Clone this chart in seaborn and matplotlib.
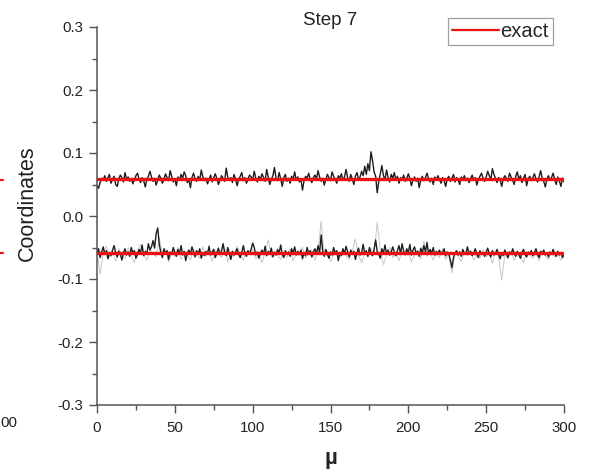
import numpy as np
import pandas as pd
import matplotlib
matplotlib.use("Agg")
import matplotlib.pyplot as plt
from matplotlib.lines import Line2D
from matplotlib.ticker import MultipleLocator
import seaborn as sns

# ---------------- data ----------------
mu = list(range(0, 301))
mu_faint = list(range(0, 301, 2))

upper = [
    0.049, 0.044, 0.053, 0.060, 0.057, 0.064, 0.055, 0.061, 0.066, 0.052,
    0.058, 0.063, 0.050, 0.047, 0.059, 0.065, 0.061, 0.054, 0.069, 0.058,
    0.062, 0.055, 0.060, 0.051, 0.057, 0.064, 0.068, 0.059, 0.053, 0.061,
    0.056, 0.046, 0.058, 0.063, 0.071, 0.062, 0.055, 0.060, 0.049, 0.057,
    0.065, 0.060, 0.052, 0.058, 0.067, 0.061, 0.056, 0.072, 0.063, 0.054,
    0.059, 0.048, 0.062, 0.057, 0.066, 0.060, 0.070, 0.064, 0.053, 0.058,
    0.045, 0.061, 0.068, 0.059, 0.055, 0.063, 0.057, 0.073, 0.062, 0.056,
    0.060, 0.051, 0.058, 0.065, 0.054, 0.061, 0.067, 0.059, 0.050, 0.057,
    0.064, 0.060, 0.055, 0.076, 0.062, 0.057, 0.061, 0.053, 0.066, 0.059,
    0.048, 0.058, 0.063, 0.069, 0.056, 0.061, 0.052, 0.059, 0.065, 0.062,
    0.057, 0.071, 0.060, 0.054, 0.063, 0.058, 0.067, 0.061, 0.055, 0.074,
    0.062, 0.050, 0.058, 0.064, 0.077, 0.060, 0.056, 0.069, 0.059, 0.047,
    0.061, 0.066, 0.055, 0.060, 0.052, 0.063, 0.058, 0.070, 0.057, 0.062,
    0.054, 0.059, 0.041, 0.056, 0.063, 0.060, 0.068, 0.058, 0.053, 0.061,
    0.065, 0.059, 0.072, 0.062, 0.055, 0.060, 0.049, 0.058, 0.066, 0.061,
    0.056, 0.070, 0.063, 0.058, 0.052, 0.064, 0.060, 0.067, 0.057, 0.062,
    0.074, 0.061, 0.055, 0.066, 0.059, 0.050, 0.063, 0.069, 0.058, 0.062,
    0.071, 0.064, 0.079, 0.066, 0.083, 0.072, 0.102, 0.088, 0.070, 0.063,
    0.037, 0.055, 0.067, 0.080, 0.064, 0.058, 0.073, 0.061, 0.054, 0.066,
    0.060, 0.069, 0.057, 0.063, 0.052, 0.061, 0.058, 0.065, 0.055, 0.060,
    0.067, 0.059, 0.048, 0.057, 0.062, 0.055, 0.060, 0.045, 0.058, 0.063,
    0.056, 0.061, 0.068, 0.059, 0.054, 0.060, 0.050, 0.062, 0.057, 0.064,
    0.058, 0.052, 0.061, 0.056, 0.047, 0.059, 0.063, 0.055, 0.060, 0.066,
    0.054, 0.061, 0.057, 0.050, 0.062, 0.058, 0.064, 0.056, 0.060, 0.053,
    0.059, 0.065, 0.057, 0.061, 0.049, 0.058, 0.063, 0.068, 0.060, 0.055,
    0.062, 0.071, 0.064, 0.058, 0.075, 0.066, 0.060, 0.053, 0.061, 0.057,
    0.047, 0.059, 0.064, 0.060, 0.055, 0.068, 0.062, 0.057, 0.050, 0.063,
    0.070, 0.058, 0.064, 0.053, 0.060, 0.066, 0.048, 0.059, 0.063, 0.056,
    0.061, 0.067, 0.059, 0.054, 0.062, 0.072, 0.060, 0.055, 0.046, 0.058,
    0.064, 0.057, 0.061, 0.068, 0.058, 0.050, 0.062, 0.056, 0.047, 0.060,
    0.054,
]

lower = [
    -0.060, -0.052, -0.066, -0.057, -0.049, -0.061, -0.055, -0.068, -0.058, -0.063,
    -0.054, -0.047, -0.059, -0.065, -0.056, -0.061, -0.070, -0.058, -0.052, -0.062,
    -0.057, -0.064, -0.050, -0.059, -0.055, -0.067, -0.061, -0.053, -0.058, -0.046,
    -0.063, -0.056, -0.060, -0.044, -0.054, -0.049, -0.039, -0.051, -0.028, -0.019,
    -0.045, -0.058, -0.066, -0.052, -0.060, -0.055, -0.069, -0.057, -0.061, -0.050,
    -0.058, -0.064, -0.053, -0.060, -0.047, -0.062, -0.056, -0.071, -0.059, -0.054,
    -0.061, -0.049, -0.057, -0.065, -0.055, -0.060, -0.052, -0.067, -0.058, -0.063,
    -0.056, -0.060, -0.048, -0.062, -0.057, -0.053, -0.066, -0.059, -0.051, -0.061,
    -0.055, -0.044, -0.058, -0.063, -0.050, -0.060, -0.069, -0.056, -0.062, -0.057,
    -0.052, -0.061, -0.066, -0.058, -0.047, -0.059, -0.064, -0.055, -0.060, -0.053,
    -0.043, -0.050, -0.062, -0.057, -0.067, -0.059, -0.054, -0.061, -0.048, -0.063,
    -0.056, -0.060, -0.051, -0.065, -0.058, -0.062, -0.053, -0.059, -0.046, -0.061,
    -0.066, -0.055, -0.060, -0.057, -0.064, -0.052, -0.059, -0.049, -0.062, -0.056,
    -0.061, -0.054, -0.068, -0.058, -0.063, -0.050, -0.060, -0.055, -0.065, -0.057,
    -0.052, -0.060, -0.047, -0.058, -0.030, -0.056, -0.064, -0.053, -0.061, -0.067,
    -0.057, -0.062, -0.050, -0.059, -0.055, -0.071, -0.058, -0.063, -0.052, -0.060,
    -0.048, -0.057, -0.065, -0.054, -0.061, -0.056, -0.069, -0.059, -0.051, -0.062,
    -0.058, -0.045, -0.060, -0.055, -0.064, -0.050, -0.059, -0.063, -0.053, -0.038,
    -0.056, -0.061, -0.067, -0.052, -0.059, -0.046, -0.060, -0.054, -0.062, -0.057,
    -0.049, -0.058, -0.063, -0.055, -0.047, -0.060, -0.044, -0.056, -0.061, -0.052,
    -0.058, -0.045, -0.062, -0.054, -0.049, -0.060, -0.056, -0.064, -0.051, -0.059,
    -0.047, -0.057, -0.042, -0.061, -0.053, -0.059, -0.050, -0.062, -0.056, -0.060,
    -0.054, -0.061, -0.058, -0.052, -0.063, -0.057, -0.060, -0.070, -0.082, -0.066,
    -0.059, -0.055, -0.062, -0.057, -0.064, -0.053, -0.060, -0.058, -0.049, -0.061,
    -0.056, -0.063, -0.059, -0.052, -0.060, -0.066, -0.055, -0.061, -0.058, -0.064,
    -0.057, -0.051, -0.060, -0.065, -0.055, -0.062, -0.059, -0.053, -0.061, -0.068,
    -0.058, -0.063, -0.054, -0.060, -0.066, -0.057, -0.061, -0.052, -0.059, -0.064,
    -0.056, -0.062, -0.067, -0.058, -0.053, -0.061, -0.065, -0.057, -0.060, -0.055,
    -0.063, -0.058, -0.052, -0.061, -0.066, -0.056, -0.060, -0.054, -0.062, -0.059,
    -0.065, -0.057, -0.061, -0.053, -0.060, -0.064, -0.056, -0.062, -0.058, -0.066,
    -0.061,
]

lower_faint = [
    -0.055, -0.092, -0.060, -0.048, -0.066, -0.058, -0.072, -0.052, -0.061, -0.068,
    -0.050, -0.063, -0.074, -0.056, -0.045, -0.062, -0.070, -0.054, -0.059, -0.065,
    -0.034, -0.061, -0.052, -0.073, -0.058, -0.064, -0.050, -0.069, -0.057, -0.062,
    -0.070, -0.053, -0.061, -0.067, -0.049, -0.064, -0.058, -0.072, -0.055, -0.060,
    -0.066, -0.051, -0.073, -0.059, -0.064, -0.048, -0.062, -0.070, -0.056, -0.061,
    -0.053, -0.068, -0.060, -0.074, -0.057, -0.038, -0.065, -0.055, -0.062, -0.069,
    -0.058, -0.066, -0.052, -0.071, -0.060, -0.063, -0.049, -0.067, -0.059, -0.054,
    -0.070, -0.057, -0.008, -0.064, -0.055, -0.072, -0.061, -0.058, -0.067, -0.052,
    -0.063, -0.069, -0.056, -0.036, -0.062, -0.074, -0.058, -0.065, -0.051, -0.060,
    -0.010, -0.055, -0.077, -0.062, -0.050, -0.066, -0.059, -0.071, -0.056, -0.063,
    -0.057, -0.073, -0.061, -0.054, -0.068, -0.040, -0.064, -0.058, -0.070, -0.060,
    -0.066, -0.052, -0.069, -0.061, -0.090, -0.057, -0.064, -0.072, -0.058, -0.063,
    -0.055, -0.070, -0.062, -0.067, -0.053, -0.065, -0.060, -0.075, -0.058, -0.064,
    -0.102, -0.061, -0.068, -0.056, -0.070, -0.059, -0.063, -0.074, -0.057, -0.062,
    -0.067, -0.060, -0.071, -0.055, -0.064, -0.069, -0.058, -0.066, -0.061, -0.070,
    -0.063,
]

exact_mu = [0, 300]
exact_upper = [0.058, 0.058]
exact_lower = [-0.058, -0.058]

x_ticks = [0, 50, 100, 150, 200, 250, 300]
y_ticks = [-0.3, -0.2, -0.1, 0.0, 0.1, 0.2, 0.3]
y_tick_labels = ["-0.3", "-0.2", "-0.1", "0.0", "0.1", "0.2", "0.3"]

# ---------------- plot ----------------
sns.set_style("white")
plt.rcParams["font.family"] = ["Liberation Sans", "DejaVu Sans"]

fig = plt.figure(figsize=(5.9, 4.72), dpi=100)
ax = fig.add_axes([97 / 590, 1 - 405 / 472, (564 - 97) / 590, (405 - 27) / 472])

sns.lineplot(x=mu_faint, y=lower_faint, ax=ax, color="#c8c8c8", lw=0.7, zorder=1)
sns.lineplot(x=mu, y=upper, ax=ax, color="#1e1e1e", lw=1.0, zorder=2)
sns.lineplot(x=mu, y=lower, ax=ax, color="#1e1e1e", lw=1.0, zorder=2)
sns.lineplot(x=exact_mu, y=exact_upper, ax=ax, color="#ee1111", lw=2.4, zorder=3,
             label="exact")
sns.lineplot(x=exact_mu, y=exact_lower, ax=ax, color="#ee1111", lw=2.4, zorder=3)

ax.set_xlim(0, 300)
ax.set_ylim(-0.3, 0.3)
ax.set_xticks(x_ticks)
ax.set_yticks(y_ticks)
ax.set_yticklabels(y_tick_labels)
ax.xaxis.set_minor_locator(MultipleLocator(25))
ax.yaxis.set_minor_locator(MultipleLocator(0.05))
ax.tick_params(which="major", direction="out", length=6, width=1.0,
               color="#555555", labelsize=10.8, labelcolor="#222222", pad=4)
ax.tick_params(which="minor", direction="out", length=3.5, width=1.0, color="#555555")
ax.tick_params(axis="x", which="major", pad=5.5)
ax.tick_params(axis="x", which="both", bottom=True)
ax.tick_params(axis="y", which="both", left=True)
for s in ["top", "right"]:
    ax.spines[s].set_visible(False)
for s in ["left", "bottom"]:
    ax.spines[s].set_color("#555555")
    ax.spines[s].set_linewidth(1.1)
ax.set_xlabel("")
ax.set_ylabel("")

fig.text(27 / 590, 1 - 203 / 472, "Coordinates", rotation=90, ha="center",
         va="center", fontsize=15.5, color="#222222")
fig.text(331 / 590, 1 - 464 / 472, "µ", ha="center", va="baseline",
         fontsize=16, fontweight="bold", color="#222222")
fig.text(330 / 590, 1 - 25 / 472, "Step 7", ha="center", va="baseline",
         fontsize=13.5, color="#222222")

leg = ax.legend(loc="upper right", bbox_to_anchor=(553 / 590, 1 - 18 / 472),
                bbox_transform=fig.transFigure, fontsize=14.5, frameon=True,
                fancybox=False, handlelength=2.3, borderpad=0.2,
                handletextpad=0.1, borderaxespad=0)
leg.get_frame().set_edgecolor("#888888")
leg.get_frame().set_linewidth(0.9)
for h in leg.get_lines():
    h.set_linewidth(1.6)

# fragments of the neighbouring panel at the left edge
fig.text(0, 1 - 423 / 472, "00", ha="left", va="center", fontsize=10.8,
         color="#222222")
fig.add_artist(Line2D([0, 3 / 590], [1 - 180 / 472, 1 - 180 / 472],
                      transform=fig.transFigure, color="#ee1111", lw=1.5))
fig.add_artist(Line2D([0, 3 / 590], [1 - 253 / 472, 1 - 253 / 472],
                      transform=fig.transFigure, color="#ee1111", lw=1.5))

fig.savefig("out.png", dpi=100)
